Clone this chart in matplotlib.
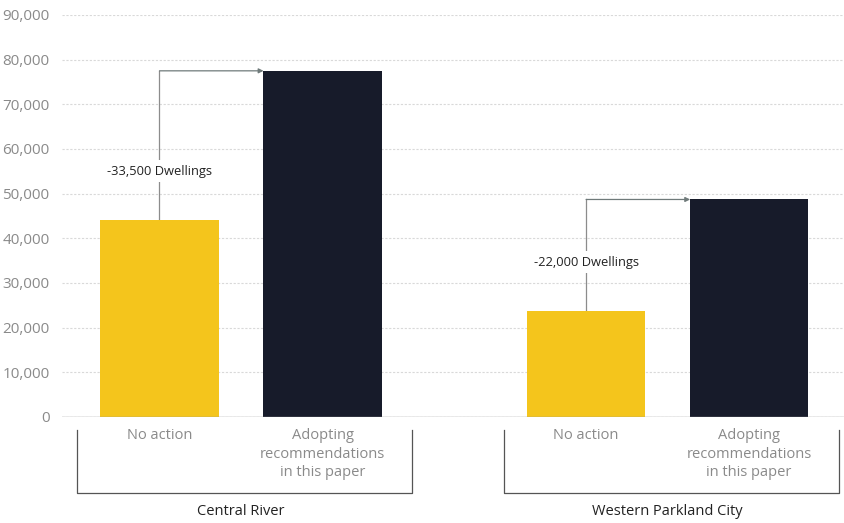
import matplotlib
matplotlib.use('Agg')
import matplotlib.pyplot as plt
import matplotlib.ticker as mticker
from matplotlib.transforms import blended_transform_factory

plt.rcParams['font.family'] = ['Open Sans', 'DejaVu Sans']

# Dwellings under each scenario
regions = ['Central River', 'Western Parkland City']
scenarios = ['No action', 'Adopting\nrecommendations\nin this paper']
no_action = [44000, 23700]
adopting = [77500, 48700]
gap_labels = ['-33,500 Dwellings', '-22,000 Dwellings']
yticks = [0, 10000, 20000, 30000, 40000, 50000, 60000, 70000, 80000, 90000]

yellow = '#F4C51C'
navy = '#171B2A'
grey_text = '#8a8a8a'

fig = plt.figure(figsize=(8.45, 5.23), dpi=100)
ax = fig.add_axes([62 / 845, 106 / 523, 783 / 845, 402 / 523])

group_pos = [0.0, 2.617]
width = 0.724
label_frac = [0.33, 0.44]

for i, g in enumerate(group_pos):
    x0, x1 = g, g + 1
    ax.bar(x0, no_action[i], width, color=yellow, zorder=3)
    ax.bar(x1, adopting[i], width, color=navy, zorder=3)

    # connector from the no-action bar up and across to the adopting bar
    ax.plot([x0, x0], [no_action[i], adopting[i]], color='#8c8c8c', lw=0.9, zorder=2)
    ax.annotate('', xy=(x1 - width / 2, adopting[i]), xytext=(x0, adopting[i]),
                arrowprops=dict(arrowstyle='-|>', color='#6f7a7a', lw=0.9,
                                mutation_scale=7, shrinkA=0, shrinkB=0), zorder=2)
    ax.text(x0, no_action[i] + (adopting[i] - no_action[i]) * label_frac[i], gap_labels[i],
            ha='center', va='center', fontsize=9.3, color='#222222', zorder=4,
            bbox=dict(facecolor='white', edgecolor='none', pad=3))

ax.set_xlim(-0.598, 4.205)
ax.set_ylim(0, 90000)
ax.set_yticks(yticks)
ax.yaxis.set_major_formatter(mticker.FuncFormatter(lambda v, p: f'{int(v):,}'))
ax.tick_params(axis='y', length=0, pad=9, labelsize=11, labelcolor=grey_text)
ax.set_xticks([])
for s in ['top', 'right', 'left', 'bottom']:
    ax.spines[s].set_visible(False)
ax.yaxis.grid(True, color='#d9d9d9', lw=0.8, ls=(0, (2, 1.5)), zorder=0)
ax.axhline(0, color='#9a9a9a', lw=1.0, zorder=4)

# scenario labels and group brackets below the axis
trans = blended_transform_factory(ax.transData, ax.transAxes)
for i, g in enumerate(group_pos):
    ax.text(g, -0.028, scenarios[0], transform=trans, ha='center', va='top',
            fontsize=10.5, color=grey_text, linespacing=1.3)
    ax.text(g + 1, -0.028, scenarios[1], transform=trans, ha='center', va='top',
            fontsize=10.5, color=grey_text, linespacing=1.3)
    left, right = g - 0.506, g + 1.55
    ax.plot([left, left, right, right], [-0.032, -0.189, -0.189, -0.032],
            transform=trans, color='#555555', lw=0.9, clip_on=False)
    ax.text(g + 0.5, -0.235, regions[i], transform=trans, ha='center', va='center',
            fontsize=10.5, color='#222222')

fig.savefig('out.png', dpi=100)
